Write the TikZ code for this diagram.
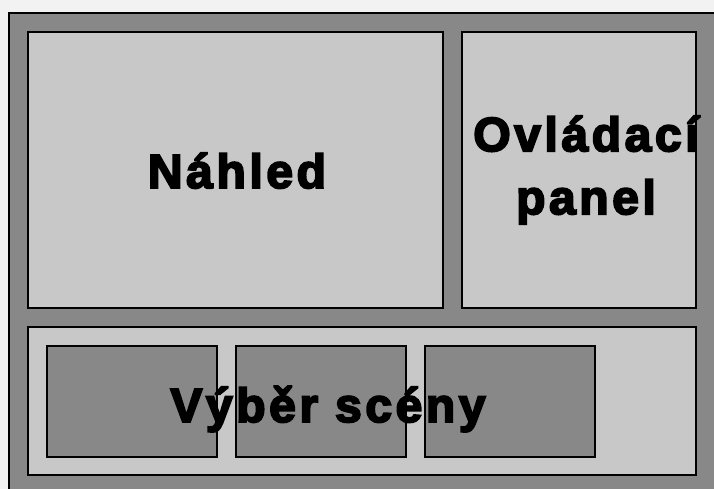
\documentclass[tikz,border=0pt]{standalone}
\usepackage{fontspec}
\setmainfont{Liberation Sans}
\newfontfamily\heavyfont[FakeBold=4,LetterSpace=7.5]{Liberation Sans Bold}
\definecolor{darkpane}{HTML}{888888}
\definecolor{lightpane}{HTML}{C8C8C8}
\tikzset{
  pane/.style={draw=black,line width=1.2pt,fill=lightpane},
  thumb/.style={draw=black,line width=1.2pt,fill=darkpane},
  caption/.style={font=\heavyfont\fontsize{48}{63}\selectfont,align=center,inner sep=0pt}
}
\begin{document}
\begin{tikzpicture}[x=1pt,y=-1pt]
\useasboundingbox (0,0) rectangle (714,489);
\fill[white!95!black] (0,0) rectangle (714,489);
\fill[darkpane] (9,13) rectangle (714,489);
\draw[line width=1.5pt] (9,489) -- (9,13) -- (714,13);
% panes
\draw[pane] (28,32) rectangle (443,308);
\draw[pane] (462,32) rectangle (696,308);
\draw[pane] (28,327) rectangle (696,475);
% scene thumbnails
\foreach \i/\x in {1/47,2/236,3/425}
  \draw[thumb] (\x,346) rectangle ({\x+170},457);
\node[caption,anchor=base] (preview) at (237,188) {Náhled};
\node[caption] (controls) at (586,170) {Ovládací\\panel};
\node[caption,anchor=base] (scenes) at (328,422) {Výběr scény};
\end{tikzpicture}
\end{document}
